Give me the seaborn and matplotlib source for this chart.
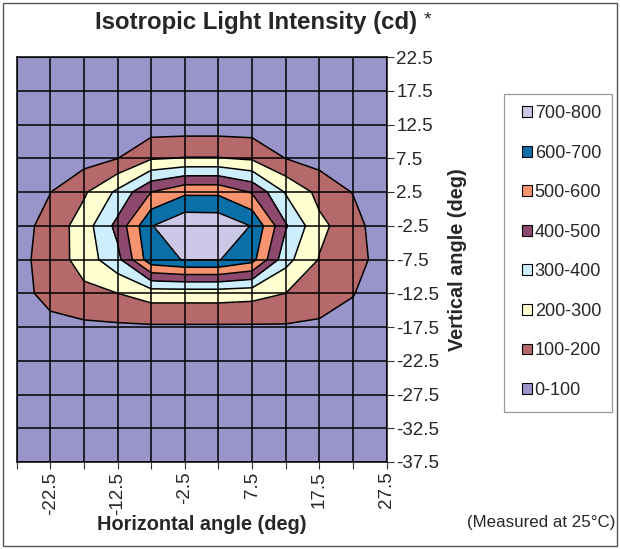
import numpy as np
import matplotlib
matplotlib.use('Agg')
import matplotlib.pyplot as plt
from matplotlib.patches import Patch, Rectangle
import seaborn as sns

# angles of the measuring grid
h_angles = [-27.5, -22.5, -17.5, -12.5, -7.5, -2.5, 2.5, 7.5, 12.5, 17.5, 22.5, 27.5]
v_angles = [22.5, 17.5, 12.5, 7.5, 2.5, -2.5, -7.5, -12.5, -17.5, -22.5, -27.5, -32.5, -37.5]

# intensity (cd) per row
cd_v22_5 = [10, 10, 15, 20, 25, 30, 30, 25, 20, 15, 10, 10]
cd_v17_5 = [10, 15, 20, 30, 35, 40, 40, 35, 30, 20, 15, 10]
cd_v12_5 = [15, 20, 30, 40, 45, 45, 45, 45, 40, 30, 20, 15]
cd_v7_5 = [20, 35, 60, 98, 190, 205, 205, 185, 98, 60, 40, 20]
cd_v2_5 = [30, 98, 185, 320, 500, 580, 580, 490, 290, 172, 95, 30]
cd_vm2_5 = [60, 135, 250, 430, 695, 780, 775, 695, 410, 222, 150, 10]
cd_vm7_5 = [70, 140, 244, 371, 665, 705, 705, 636, 333, 195, 150, 40]
cd_vm12_5 = [50, 145, 175, 200, 245, 245, 245, 235, 200, 160, 105, 25]
cd_vm17_5 = [30, 60, 80, 85, 88, 88, 88, 88, 90, 80, 60, 20]
cd_vm22_5 = [20, 30, 40, 45, 45, 50, 50, 45, 45, 40, 30, 15]
cd_vm27_5 = [15, 20, 25, 30, 35, 35, 35, 35, 30, 25, 20, 10]
cd_vm32_5 = [10, 15, 20, 20, 25, 25, 25, 25, 20, 20, 15, 10]
cd_vm37_5 = [10, 10, 15, 15, 20, 20, 20, 20, 15, 15, 10, 10]

levels = [0, 100, 200, 300, 400, 500, 600, 700, 800]
band_labels = ['0-100', '100-200', '200-300', '300-400',
               '400-500', '500-600', '600-700', '700-800']
band_colors = ['#9995CB', '#B5696B', '#FFFFD2', '#CDEFFD',
               '#8E4A6E', '#F7946F', '#0B6FA8', '#CBC7E6']
x_labels = ['', '-22.5', '', '-12.5', '', '-2.5', '', '7.5', '', '17.5', '', '27.5']

sns.set_theme(style='white')
plt.rcParams['font.family'] = ['Liberation Sans', 'DejaVu Sans']

Z = np.array([cd_v22_5, cd_v17_5, cd_v12_5, cd_v7_5, cd_v2_5, cd_vm2_5, cd_vm7_5,
              cd_vm12_5, cd_vm17_5, cd_vm22_5, cd_vm27_5, cd_vm32_5, cd_vm37_5])
X, Y = np.meshgrid(h_angles, v_angles)

W, H = 620, 549
fig = plt.figure(figsize=(W / 100, H / 100), dpi=100)
fig.patch.set_facecolor('white')
ax = fig.add_axes([16.6 / W, 1 - 462 / H, (386.7 - 16.6) / W, (462 - 57) / H])

ax.contourf(X, Y, Z, levels=levels, colors=band_colors)
ax.contour(X, Y, Z, levels=levels[1:-1], colors='black', linewidths=1.1)

ax.set_xlim(h_angles[0], h_angles[-1])
ax.set_ylim(v_angles[-1], v_angles[0])
ax.set_xticks(h_angles)
ax.set_xticklabels(x_labels, rotation=90)
ax.set_yticks(v_angles)
ax.set_yticklabels([f'{v:g}' for v in v_angles])
ax.yaxis.tick_right()
ax.yaxis.set_label_position('right')
ax.tick_params(axis='both', direction='out', length=5, width=0.8, color='#333333',
               labelsize=13.5, pad=2, bottom=True, right=True, left=False)
ax.grid(True, color='black', linewidth=1.1)
ax.set_axisbelow(False)
for sp in ax.spines.values():
    sp.set_color('black')
    sp.set_linewidth(1.1)

ax.set_xlabel('Horizontal angle (deg)', fontsize=14.3, fontweight='bold', labelpad=0)
ax.set_ylabel('Vertical angle (deg)', fontsize=14.3, fontweight='bold', labelpad=6)

fig.text(256.5 / W, 1 - 22 / H, 'Isotropic Light Intensity (cd)', fontsize=17.3,
         fontweight='bold', ha='center', va='center')
fig.text(424 / W, 1 - 20 / H, '*', fontsize=14, ha='left', va='center')
fig.text(615 / W, 1 - 522 / H, '(Measured at 25°C)', fontsize=12.2, ha='right', va='center')

# legend, top entry is the highest band
handles = [Patch(facecolor=c, edgecolor='black', linewidth=0.8, label=l)
           for c, l in zip(band_colors[::-1], band_labels[::-1])]
fig.patches.append(Rectangle((504 / W, 1 - 412 / H), 108 / W, 318 / H,
                             transform=fig.transFigure, facecolor='white',
                             edgecolor='#999999', linewidth=0.9, zorder=0))
fig.legend(handles=handles, loc='upper left', bbox_to_anchor=(522 / W, 1 - 105 / H),
           frameon=False, fontsize=13, handlelength=0.55, handleheight=0.55,
           handletextpad=0.15, labelspacing=1.25, borderpad=0, borderaxespad=0)

fig.patches.append(Rectangle((3 / W, 3 / H), 614 / W, 543 / H, transform=fig.transFigure,
                             facecolor='none', edgecolor='#555555', linewidth=1.0))

fig.savefig('out.png', dpi=100)
